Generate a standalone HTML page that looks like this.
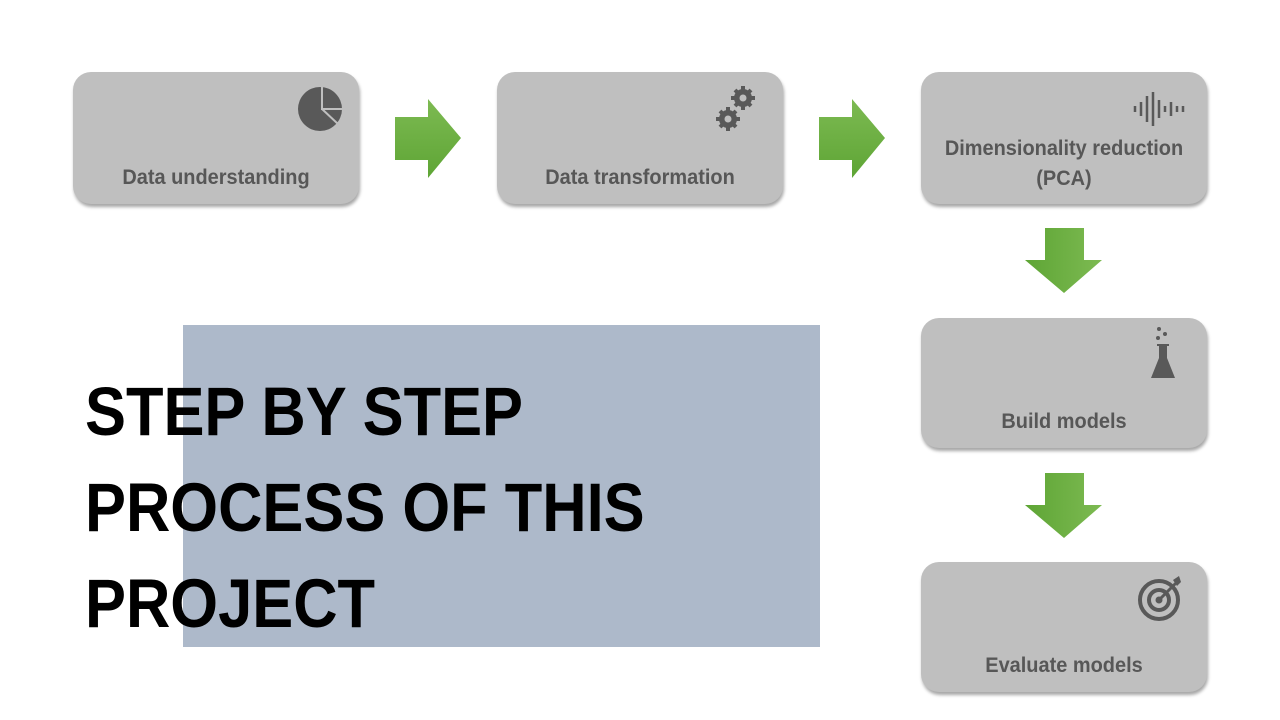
<!DOCTYPE html>
<html><head><meta charset="utf-8"><style>
body{margin:0;width:1280px;height:720px;background:#fff;position:relative;overflow:hidden;font-family:"Liberation Sans",sans-serif}
.box{position:absolute;width:286px;height:132px;background:#bfbfbf;border-radius:18px;box-shadow:1px 3px 3px rgba(0,0,0,.35)}
.lbl{position:absolute;left:0;right:0;text-align:center;color:#575757;font-weight:bold;font-size:21px;line-height:30px;transform:scaleX(.95)}
.ic{position:absolute}
.title{position:absolute;left:85px;top:364px;font-weight:bold;font-size:69px;line-height:96px;color:#000;transform:scaleX(.89);transform-origin:left top;white-space:nowrap}
</style></head><body>
<div style="position:absolute;left:183px;top:325px;width:637px;height:322px;background:#adb9ca"></div>
<div class="title">STEP BY STEP<br>PROCESS OF THIS<br>PROJECT</div>

<div class="box" style="left:73px;top:72px"><div class="lbl" style="top:91px">Data understanding</div>
<svg class="ic" style="left:224px;top:14px" width="46" height="46" viewBox="0 0 46 46"><circle cx="23" cy="23" r="22" fill="#595959"/><path d="M25 1 V23 H45" stroke="#bfbfbf" stroke-width="2" fill="none"/><path d="M25 23 L41 38" stroke="#bfbfbf" stroke-width="2"/></svg></div>

<div class="box" style="left:497px;top:72px"><div class="lbl" style="top:91px">Data transformation</div>
<svg class="ic" style="left:218px;top:12px" width="42" height="50" viewBox="0 0 42 50"><g fill="#595959"><circle cx="28" cy="14" r="9"/><circle cx="13" cy="35" r="9"/><g stroke="#595959" stroke-width="4"><path d="M28 2V26M16 14H40M20 6L36 22M20 22L36 6"/><path d="M13 23V47M1 35H25M5 27L21 43M5 43L21 27"/></g></g><circle cx="28" cy="14" r="3.5" fill="#bfbfbf"/><circle cx="13" cy="35" r="3.5" fill="#bfbfbf"/></svg></div>

<div class="box" style="left:921px;top:72px"><div class="lbl" style="top:62px">Dimensionality reduction<br>(PCA)</div>
<svg class="ic" style="left:212px;top:20px" width="54" height="34" viewBox="0 0 54 34"><g stroke="#595959" stroke-width="2.5"><path d="M2 14V20M8 10V24M14 4V30M20 0V34M26 8V26M32 14V20M38 10V24M44 14V20M50 14V20"/></g></svg></div>

<div class="box" style="left:921px;top:318px;height:130px"><div class="lbl" style="top:89px">Build models</div>
<svg class="ic" style="left:228px;top:8px" width="28" height="56" viewBox="0 0 28 56"><g fill="#595959"><circle cx="10" cy="3" r="2"/><circle cx="16" cy="8" r="2"/><circle cx="9" cy="12" r="2"/><path d="M8 18H20V20H18V32L26 52H2L10 32V20H8Z"/></g></svg></div>

<div class="box" style="left:921px;top:562px;height:130px"><div class="lbl" style="top:89px">Evaluate models</div>
<svg class="ic" style="left:216px;top:14px" width="48" height="46" viewBox="0 0 48 46"><g fill="none" stroke="#595959" stroke-width="4"><circle cx="22" cy="24" r="19"/><circle cx="22" cy="24" r="10"/></g><circle cx="22" cy="24" r="3.5" fill="#595959"/><path d="M22 24L40 6" stroke="#595959" stroke-width="3"/><path d="M36 4L42 0L44 6L40 10Z" fill="#595959"/></svg></div>

<svg style="position:absolute;left:0;top:0" width="1280" height="720"><defs>
<linearGradient id="g" x1="0" y1="0" x2="0" y2="1"><stop offset="0" stop-color="#7dba52"/><stop offset="1" stop-color="#5ea535"/></linearGradient>
<linearGradient id="h" x1="0" y1="0" x2="1" y2="0"><stop offset="0" stop-color="#5ea535"/><stop offset="1" stop-color="#7dba52"/></linearGradient></defs>
<path d="M395 117H428V99L461 138L428 178V160H395Z" fill="url(#g)"/>
<path d="M819 117H852V99L885 138L852 178V160H819Z" fill="url(#g)"/>
<path d="M1045 228H1084V260H1102L1064 293L1025 260H1045Z" fill="url(#h)"/>
<path d="M1045 473H1084V505H1102L1064 538L1025 505H1045Z" fill="url(#h)"/>
</svg>
</body></html>
